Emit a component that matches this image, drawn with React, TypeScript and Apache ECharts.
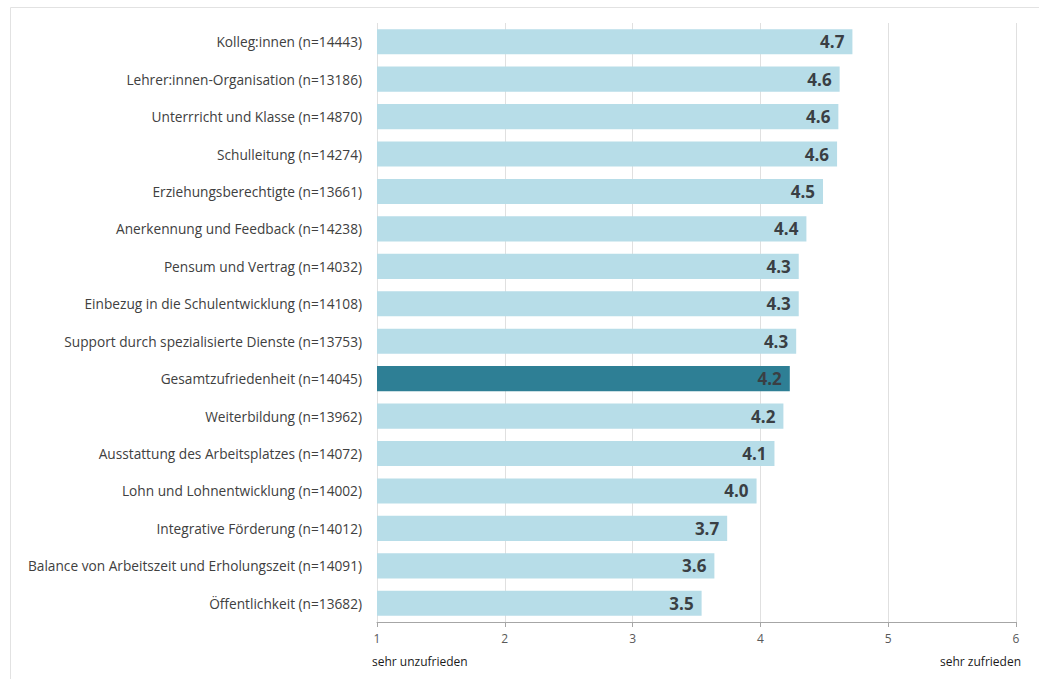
import React, { useEffect, useRef } from "react";
import * as echarts from "echarts";

const categories = [
  "Kolleg:innen (n=14443)",
  "Lehrer:innen-Organisation (n=13186)",
  "Unterrricht und Klasse (n=14870)",
  "Schulleitung (n=14274)",
  "Erziehungsberechtigte (n=13661)",
  "Anerkennung und Feedback (n=14238)",
  "Pensum und Vertrag (n=14032)",
  "Einbezug in die Schulentwicklung (n=14108)",
  "Support durch spezialisierte Dienste (n=13753)",
  "Gesamtzufriedenheit (n=14045)",
  "Weiterbildung (n=13962)",
  "Ausstattung des Arbeitsplatzes (n=14072)",
  "Lohn und Lohnentwicklung (n=14002)",
  "Integrative Förderung (n=14012)",
  "Balance von Arbeitszeit und Erholungszeit (n=14091)",
  "Öffentlichkeit (n=13682)",
];
const values = [4.72, 4.62, 4.61, 4.6, 4.49, 4.36, 4.3, 4.3, 4.28, 4.23, 4.18, 4.11, 3.97, 3.74, 3.64, 3.54];
const highlight = "Gesamtzufriedenheit (n=14045)";
const xTicks = [1, 2, 3, 4, 5, 6];
const axisEndLabels = ["sehr unzufrieden", "sehr zufrieden"];

const FONT = "'Open Sans', 'Noto Sans', sans-serif";

export default function App() {
  const ref = useRef<HTMLDivElement>(null);
  useEffect(() => {
    if (!ref.current) return;
    const chart = echarts.init(ref.current, undefined, { renderer: "svg" });
    chart.setOption({
      animation: false,
      backgroundColor: "#ffffff",
      graphic: [
        {
          type: "rect",
          shape: { x: 10.5, y: 7.5, width: 1040, height: 700 },
          style: { fill: "none", stroke: "#e2e2e2", lineWidth: 1 },
          silent: true,
          z: -1,
        },
        {
          type: "text",
          left: 372,
          top: 655,
          style: { text: axisEndLabels[0], font: `12px ${FONT}`, fill: "#1a1a1a" },
        },
        {
          type: "text",
          right: 18,
          top: 655,
          style: { text: axisEndLabels[1], font: `12px ${FONT}`, fill: "#1a1a1a" },
        },
      ],
      grid: { left: 377, right: 23, top: 23, bottom: 57, containLabel: false },
      xAxis: {
        type: "value",
        min: xTicks[0],
        max: xTicks[xTicks.length - 1],
        interval: 1,
        axisLine: { show: true, lineStyle: { color: "#a6a6a6", width: 1 } },
        axisTick: { show: true, length: 5, lineStyle: { color: "#a6a6a6" } },
        axisLabel: { color: "#595959", fontSize: 12, fontFamily: FONT, margin: 10 },
        splitLine: { show: true, lineStyle: { color: "#e0e0e0", width: 1 } },
      },
      yAxis: {
        type: "category",
        inverse: true,
        data: categories,
        axisLine: { show: false },
        axisTick: { show: false },
        axisLabel: { color: "#404040", fontSize: 13.7, fontFamily: FONT, margin: 15 },
      },
      series: [
        {
          type: "bar",
          data: values.map((v, i) => ({
            value: v,
            itemStyle: { color: categories[i] === highlight ? "#2e7f95" : "#b7dde8" },
          })),
          barCategoryGap: "33%",
          label: {
            show: true,
            position: "insideRight",
            distance: 8,
            formatter: (p: any) => Number(p.value).toFixed(1),
            color: "#3a3f44",
            fontSize: 17,
            fontWeight: "bold",
            fontFamily: FONT,
          },
        },
      ],
    });
    return () => chart.dispose();
  }, []);
  return <div ref={ref} style={{ width: 1039, height: 679, position: "absolute", left: 0, top: 0 }} />;
}
